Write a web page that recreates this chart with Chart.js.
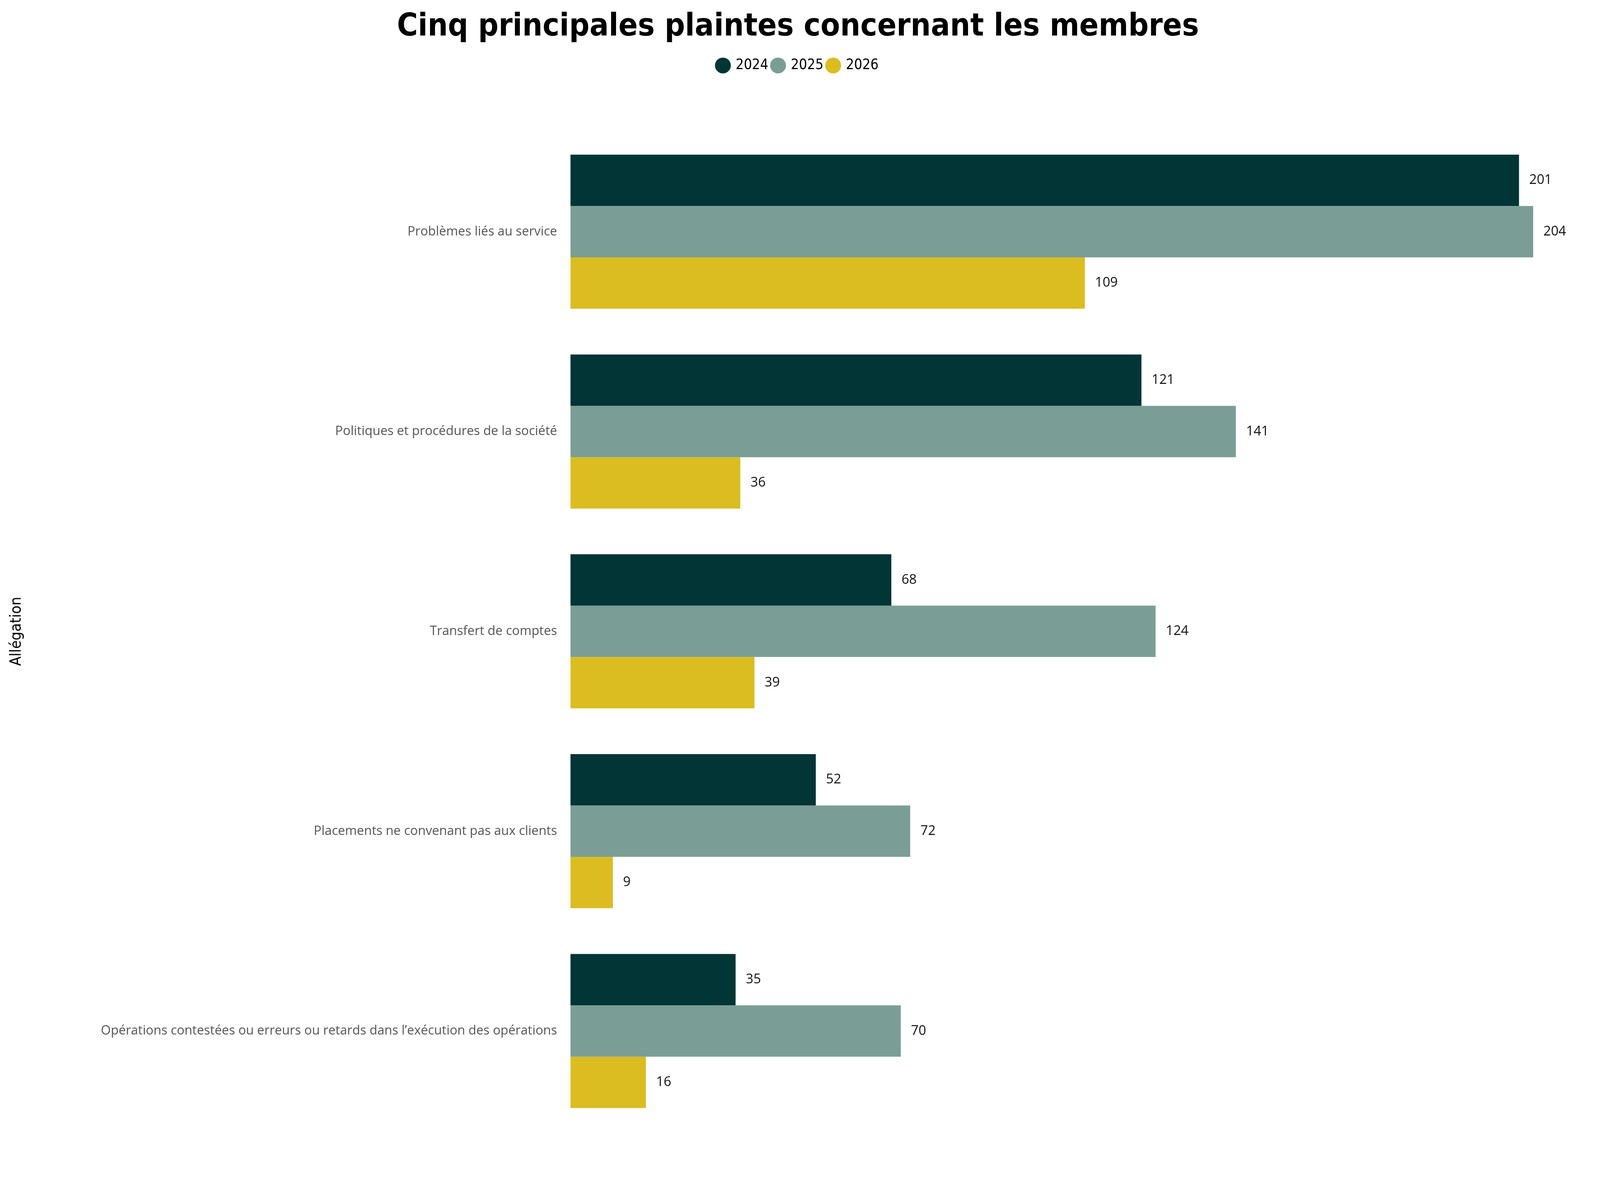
<!DOCTYPE html>
<html><head><meta charset="utf-8">
<script src="https://cdn.jsdelivr.net/npm/chart.js@4"></script>
<style>html,body{margin:0;padding:0;background:#fff;overflow:hidden}#w{width:100vw;height:100vh}</style>
</head><body><div id="w"><canvas id="c"></canvas></div>
<script>
const categories = ["Problèmes liés au service","Politiques et procédures de la société","Transfert de comptes","Placements ne convenant pas aux clients","Opérations contestées ou erreurs ou retards dans l’exécution des opérations"];
const seriesNames = ["2024","2025","2026"];
const v2024 = [201,121,68,52,35];
const v2025 = [204,141,124,72,70];
const v2026 = [109,36,39,9,16];
const colors = ["#023535","#7a9e95","#dbbc21"];

const s = window.innerWidth / 1568;

const labelPlugin = {
  id:'lbl',
  beforeInit(chart){
    const f = chart.legend.fit;
    chart.legend.fit = function(){ f.call(this); this.height = 76*s; };
  },
  afterDatasetsDraw(chart){
    const ctx = chart.ctx;
    ctx.save();
    ctx.font = (13*s)+'px "Open Sans", sans-serif';
    ctx.fillStyle = '#111';
    ctx.textBaseline = 'middle';
    chart.data.datasets.forEach((ds,i)=>{
      chart.getDatasetMeta(i).data.forEach((el,j)=>{
        ctx.fillText(String(ds.data[j]), el.x + 10*s, el.y);
      });
    });
    ctx.restore();
  }
};

new Chart(document.getElementById('c'), {
  type:'bar',
  data:{labels:categories, datasets:[
    {label:seriesNames[0], data:v2024, backgroundColor:colors[0]},
    {label:seriesNames[1], data:v2025, backgroundColor:colors[1]},
    {label:seriesNames[2], data:v2026, backgroundColor:colors[2]}
  ]},
  options:{
    indexAxis:'y', responsive:true, maintainAspectRatio:false, animation:false,
    datasets:{bar:{categoryPercentage:0.771, barPercentage:1}},
    layout:{padding:{left:6*s,right:10*s,top:8*s,bottom:56*s}},
    plugins:{
      title:{display:true, text:'Cinq principales plaintes concernant les membres', color:'#000',
        font:{family:'"DejaVu Sans Condensed", sans-serif', size:31*s, weight:'bold'}, padding:{top:0,bottom:8*s}},
      legend:{display:true, position:'top', labels:{usePointStyle:true, pointStyle:'circle', boxWidth:11*s, boxHeight:11*s, padding:4*s,
        color:'#000', font:{family:'"DejaVu Sans Condensed", sans-serif', size:14*s}}},
      tooltip:{enabled:false}
    },
    scales:{
      x:{display:false, min:0, max:216},
      y:{grid:{display:false}, border:{display:false},
        ticks:{color:'#555', font:{family:'"Open Sans", sans-serif', size:12.5*s}, padding:10*s},
        title:{display:true, text:'Allégation', color:'#000', font:{family:'"DejaVu Sans Condensed", sans-serif', size:15*s}},
        afterFit(sc){ sc.width = 553*s; }
      }
    }
  },
  plugins:[labelPlugin]
});
</script></body></html>
